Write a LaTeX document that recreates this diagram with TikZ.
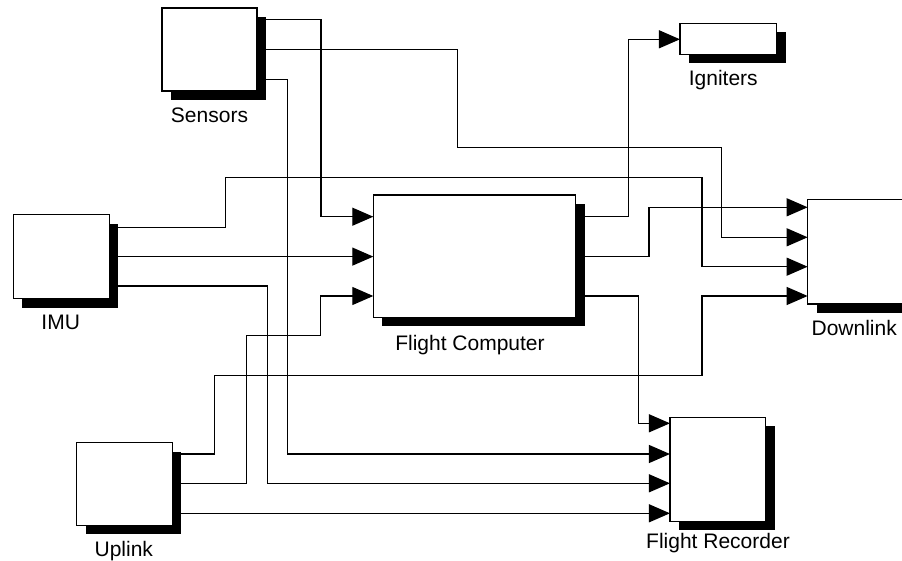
\documentclass[tikz,border=0pt]{standalone}
\usepackage{fontspec}
\setmainfont{Liberation Sans}
\usetikzlibrary{arrows.meta,shadows}
\begin{document}
\begin{tikzpicture}[x=1pt,y=-1pt,
  blk/.style={draw, line width=1.1pt, fill=white, inner sep=0pt, outer sep=0pt,
    drop shadow={shadow xshift=9pt, shadow yshift=-9pt, fill=black, opacity=1}},
  wire/.style={line width=1.2pt},
  arr/.style={wire, -{Triangle[length=21pt,width=18pt]}},
  lbl/.style={font=\fontsize{21}{24}\selectfont, anchor=base, inner sep=0pt}]
\useasboundingbox (0,0) rectangle (902,561);
\clip (0,0) rectangle (902,561);
% blocks
\node[blk, minimum width=95pt, minimum height=83pt] (sens) at (209.5,49.5) {};
\node[blk, minimum width=96pt, minimum height=84pt] (imu) at (61.2,256.7) {};
\node[blk, minimum width=95.6pt, minimum height=82.6pt] (upl) at (124.5,483.8) {};
\node[blk, minimum width=202.4pt, minimum height=122.3pt] (fc) at (474.5,256.2) {};
\node[blk, minimum width=96.3pt, minimum height=104.7pt] (dl) at (855.8,251.7) {};
\node[blk, minimum width=95.7pt, minimum height=103.7pt] (fr) at (717.8,469.2) {};
\node[blk, minimum width=96.7pt, minimum height=31pt] (ign) at (728.3,38.8) {};
% labels
\node[lbl] (sensl) at (209.5,122.7) {Sensors};
\node[lbl] (imul) at (60.7,330) {IMU};
\node[lbl] (upll) at (123.8,556.7) {Uplink};
\node[lbl] (fcl) at (470,350) {Flight Computer};
\node[lbl] (dll) at (854.2,335.3) {Downlink};
\node[lbl] (frl) at (718,548.3) {Flight Recorder};
\node[lbl] (ignl) at (723.3,86) {Igniters};
% wires
\draw[arr] (sens.east |- 0,19.5) -| (321,216.7) -- (fc.west |- 0,216.7);
\draw[arr] (sens.east |- 0,49.5) -| (457.7,147.3) -| (721.7,237.3) -- (dl.west |- 0,237.3);
\draw[arr] (sens.east |- 0,79.5) -| (287.3,454) -- (fr.west |- 0,454);
\draw[arr] (imu.east |- 0,227.3) -| (225.7,177.7) -| (702,266.7) -- (dl.west |- 0,266.7);
\draw[arr] (imu.east |- 0,256.6) -- (fc.west |- 0,256.6);
\draw[arr] (imu.east |- 0,286) -| (267.5,483.3) -- (fr.west |- 0,483.3);
\draw[arr] (upl.east |- 0,454) -| (214.3,375.3) -| (702,296) -- (dl.west |- 0,296);
\draw[arr] (upl.east |- 0,483.3) -| (246.5,335.7) -| (320.7,296) -- (fc.west |- 0,296);
\draw[arr] (upl.east |- 0,513.3) -- (fr.west |- 0,513.3);
\draw[arr] (fc.east |- 0,216.7) -| (628.3,39.3) -- (ign.west |- 0,39.3);
\draw[arr] (fc.east |- 0,256.6) -| (649,207.3) -- (dl.west |- 0,207.3);
\draw[arr] (fc.east |- 0,296) -| (638.3,423.3) -- (fr.west |- 0,423.3);
\end{tikzpicture}
\end{document}
